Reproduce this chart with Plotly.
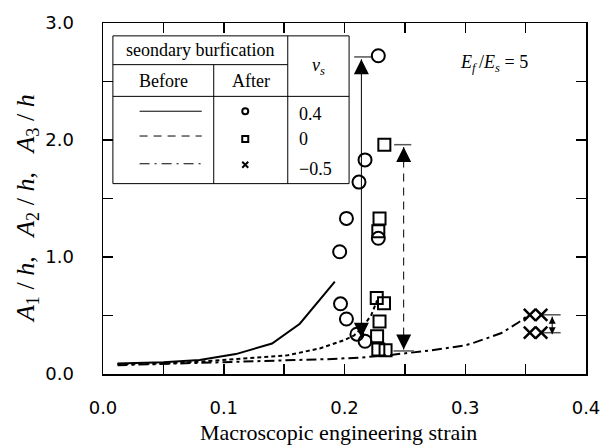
import plotly.graph_objects as go

# ---------------- data ----------------
# nu_s = 0.4, before secondary bifurcation (solid)
solid_x = [0.012, 0.05, 0.08, 0.11, 0.14, 0.163, 0.192]
solid_y = [0.09, 0.10, 0.12, 0.17, 0.26, 0.43, 0.79]
# nu_s = 0, before (short dashed)
dash_x = [0.012, 0.05, 0.08, 0.11, 0.153, 0.18, 0.20, 0.208, 0.215, 0.222, 0.227]
dash_y = [0.085, 0.09, 0.105, 0.125, 0.16, 0.22, 0.29, 0.33, 0.40, 0.50, 0.63]
# nu_s = -0.5, before (dash-dot)
dd_x = [0.012, 0.05, 0.10, 0.15, 0.186, 0.213, 0.24, 0.27, 0.30, 0.308, 0.33, 0.344, 0.352]
dd_y = [0.075, 0.085, 0.10, 0.115, 0.127, 0.14, 0.165, 0.20, 0.245, 0.27, 0.35, 0.44, 0.50]

# after secondary bifurcation (markers)
circ_x = [0.228, 0.217, 0.212, 0.2016, 0.196, 0.228, 0.1967, 0.2016, 0.2103, 0.217]
circ_y = [2.72, 1.83, 1.64, 1.33, 1.045, 1.16, 0.60, 0.47, 0.34, 0.28]
sq_x = [0.233, 0.229, 0.228, 0.2267, 0.2327, 0.229, 0.227, 0.228, 0.234]
sq_y = [1.96, 1.33, 1.22, 0.65, 0.604, 0.449, 0.322, 0.209, 0.203]
cross_x = [0.3535, 0.363, 0.3535, 0.363]
cross_y = [0.506, 0.506, 0.353, 0.353]

# jump arrows: x position, lower tip, upper tip
arr_solid = (0.214, 0.31, 2.69)
arr_dash = (0.249, 0.209, 1.94)
arr_small = (0.372, 0.34, 0.49)
# level bars: (x0, x1, y)
bars = [(0.208, 0.2226, 2.71), (0.2411, 0.2553, 1.96), (0.2405, 0.2575, 0.197),
        (0.363, 0.379, 0.506), (0.363, 0.379, 0.353)]

x_ticks = [0.0, 0.05, 0.1, 0.15, 0.2, 0.25, 0.3, 0.35, 0.4]
x_labels = ["0.0", "", "0.1", "", "0.2", "", "0.3", "", "0.4"]
y_ticks = [0.0, 0.5, 1.0, 1.5, 2.0, 2.5, 3.0]
y_labels = ["0.0", "", "1.0", "", "2.0", "", "3.0"]

nu_labels = ["0.4", "0", "\u22120.5"]

SERIF = "Liberation Serif"
SANS = "DejaVu Sans"

fig = go.Figure()

fig.add_trace(go.Scatter(x=solid_x, y=solid_y, mode="lines",
                         line=dict(color="black", width=2)))
fig.add_trace(go.Scatter(x=dash_x, y=dash_y, mode="lines",
                         line=dict(color="black", width=2, dash="4px,3px")))
fig.add_trace(go.Scatter(x=dd_x, y=dd_y, mode="lines",
                         line=dict(color="black", width=2, dash="10px,4px,3px,4px")))

# arrows (lines)
fig.add_trace(go.Scatter(x=[arr_solid[0], arr_solid[0]], y=[arr_solid[1], arr_solid[2]],
                         mode="lines", line=dict(color="black", width=1)))
fig.add_trace(go.Scatter(x=[arr_dash[0], arr_dash[0]], y=[arr_dash[1], arr_dash[2]],
                         mode="lines", line=dict(color="black", width=1, dash="8px,6px")))
fig.add_trace(go.Scatter(x=[arr_small[0], arr_small[0]], y=[arr_small[1], arr_small[2]],
                         mode="lines", line=dict(color="black", width=1)))
for b in bars:
    fig.add_trace(go.Scatter(x=[b[0], b[1]], y=[b[2], b[2]], mode="lines",
                             line=dict(color="#555555", width=1.5)))
# arrow heads
for a, s in [(arr_solid, 15), (arr_dash, 15), (arr_small, 7)]:
    fig.add_trace(go.Scatter(x=[a[0]], y=[a[2]], mode="markers",
                             marker=dict(symbol="arrow-up", size=s, color="black",
                                         line=dict(width=0))))
    fig.add_trace(go.Scatter(x=[a[0]], y=[a[1]], mode="markers",
                             marker=dict(symbol="arrow-down", size=s, color="black",
                                         line=dict(width=0))))

# markers
fig.add_trace(go.Scatter(x=circ_x, y=circ_y, mode="markers",
                         marker=dict(symbol="circle-open", size=13, color="black",
                                     line=dict(width=2, color="black"))))
fig.add_trace(go.Scatter(x=sq_x, y=sq_y, mode="markers",
                         marker=dict(symbol="square-open", size=12, color="black",
                                     line=dict(width=2, color="black"))))
fig.add_trace(go.Scatter(x=cross_x, y=cross_y, mode="markers",
                         marker=dict(symbol="x-thin-open", size=12, color="black",
                                     line=dict(width=2.5, color="black"))))

# ---------------- legend table ----------------
T_L, T_R, T_T, T_B = 0.0082, 0.2038, 2.89, 1.627
T_H1, T_H2 = 2.644, 2.373
T_NU, T_BA = 0.153, 0.0917
row_y_line = [2.246, 2.034, 1.797]
row_y_mark = [2.246, 2.008, 1.788]
row_y_text = [2.22, 2.01, 1.754]

shapes = [
    dict(type="rect", x0=T_L, x1=T_R, y0=T_B, y1=T_T, line=dict(color="black", width=1)),
    dict(type="line", x0=T_L, x1=T_NU, y0=T_H1, y1=T_H1, line=dict(color="black", width=1)),
    dict(type="line", x0=T_L, x1=T_R, y0=T_H2, y1=T_H2, line=dict(color="black", width=1)),
    dict(type="line", x0=T_NU, x1=T_NU, y0=T_B, y1=T_T, line=dict(color="black", width=1)),
    dict(type="line", x0=T_BA, x1=T_BA, y0=T_B, y1=T_H1, line=dict(color="black", width=1)),
]

leg_x = [0.0303, 0.0818]
fig.add_trace(go.Scatter(x=leg_x, y=[row_y_line[0]] * 2, mode="lines",
                         line=dict(color="black", width=1)))
fig.add_trace(go.Scatter(x=leg_x, y=[row_y_line[1]] * 2, mode="lines",
                         line=dict(color="black", width=1, dash="8px,6px")))
fig.add_trace(go.Scatter(x=leg_x, y=[row_y_line[2]] * 2, mode="lines",
                         line=dict(color="black", width=1, dash="10px,5px,2px,5px")))
mk_x = 0.1178
fig.add_trace(go.Scatter(x=[mk_x], y=[row_y_mark[0]], mode="markers",
                         marker=dict(symbol="circle-open", size=6, color="black",
                                     line=dict(width=2, color="black"))))
fig.add_trace(go.Scatter(x=[mk_x], y=[row_y_mark[1]], mode="markers",
                         marker=dict(symbol="square-open", size=6, color="black",
                                     line=dict(width=2, color="black"))))
fig.add_trace(go.Scatter(x=[mk_x], y=[row_y_mark[2]], mode="markers",
                         marker=dict(symbol="x-thin-open", size=6, color="black",
                                     line=dict(width=2, color="black"))))

tfont = dict(family=SERIF, size=18, color="black")
ann = [
    dict(x=(T_L + T_NU) / 2, y=(T_T + T_H1) / 2, text="seondary burfication"),
    dict(x=(T_L + T_BA) / 2, y=(T_H1 + T_H2) / 2, text="Before"),
    dict(x=(T_BA + T_NU) / 2, y=(T_H1 + T_H2) / 2, text="After"),
    dict(x=(T_NU + T_R) / 2, y=(T_T + T_H2) / 2, text="<i>\u03bd<sub>s</sub></i>"),
]
for a in ann:
    a.update(xref="x", yref="y", showarrow=False, font=tfont,
             xanchor="center", yanchor="middle")
for lab, yy in zip(nu_labels, row_y_text):
    ann.append(dict(x=0.161, y=yy, xref="x", yref="y", text=lab, showarrow=False,
                    font=tfont, xanchor="left", yanchor="middle"))
ann.append(dict(x=0.324, y=2.65, xref="x", yref="y", showarrow=False,
                text="<i>E<sub>f</sub></i>\u2009/<i>E<sub>s</sub></i> = 5",
                font=dict(family=SERIF, size=18, color="black"),
                xanchor="center", yanchor="middle"))
# axis titles
ann.append(dict(x=0.487, y=0, xref="paper", yref="paper", yshift=-58, showarrow=False,
                text="Macroscopic engineering strain",
                font=dict(family=SERIF, size=22, color="black"),
                xanchor="center", yanchor="middle"))
ann.append(dict(x=0, y=0.47, xref="paper", yref="paper", xshift=-76, showarrow=False,
                text="<i>A</i><sub>1</sub>\u00a0/\u00a0<i>h</i>,\u00a0\u00a0\u00a0"
                     "<i>A</i><sub>2</sub>\u00a0/\u00a0<i>h</i>,\u00a0\u00a0\u00a0"
                     "<i>A</i><sub>3</sub>\u00a0/\u00a0<i>h</i>",
                textangle=-90,
                font=dict(family=SERIF, size=26, color="black"),
                xanchor="center", yanchor="middle"))

axis_common = dict(showgrid=False, zeroline=False, showline=True, linecolor="black",
                   linewidth=1.5, mirror="ticks", ticks="inside", ticklen=10,
                   tickwidth=1.5, tickcolor="black",
                   tickfont=dict(family=SANS, size=18, color="black"))

fig.update_layout(
    width=612, height=446,
    margin=dict(l=103, r=20, t=20, b=72),
    paper_bgcolor="white", plot_bgcolor="white",
    showlegend=False,
    shapes=shapes, annotations=ann,
    xaxis=dict(range=[0, 0.4], tickmode="array", tickvals=x_ticks, ticktext=x_labels,
               ticklabelstandoff=17, **axis_common),
    yaxis=dict(range=[0, 3], tickmode="array", tickvals=y_ticks, ticktext=y_labels,
               ticklabelstandoff=24, **axis_common),
)

fig.write_html("out.html",
               config={"displayModeBar": False, "staticPlot": True},
               post_script="document.body.style.margin='0';"
                           "document.body.style.overflow='hidden';")
